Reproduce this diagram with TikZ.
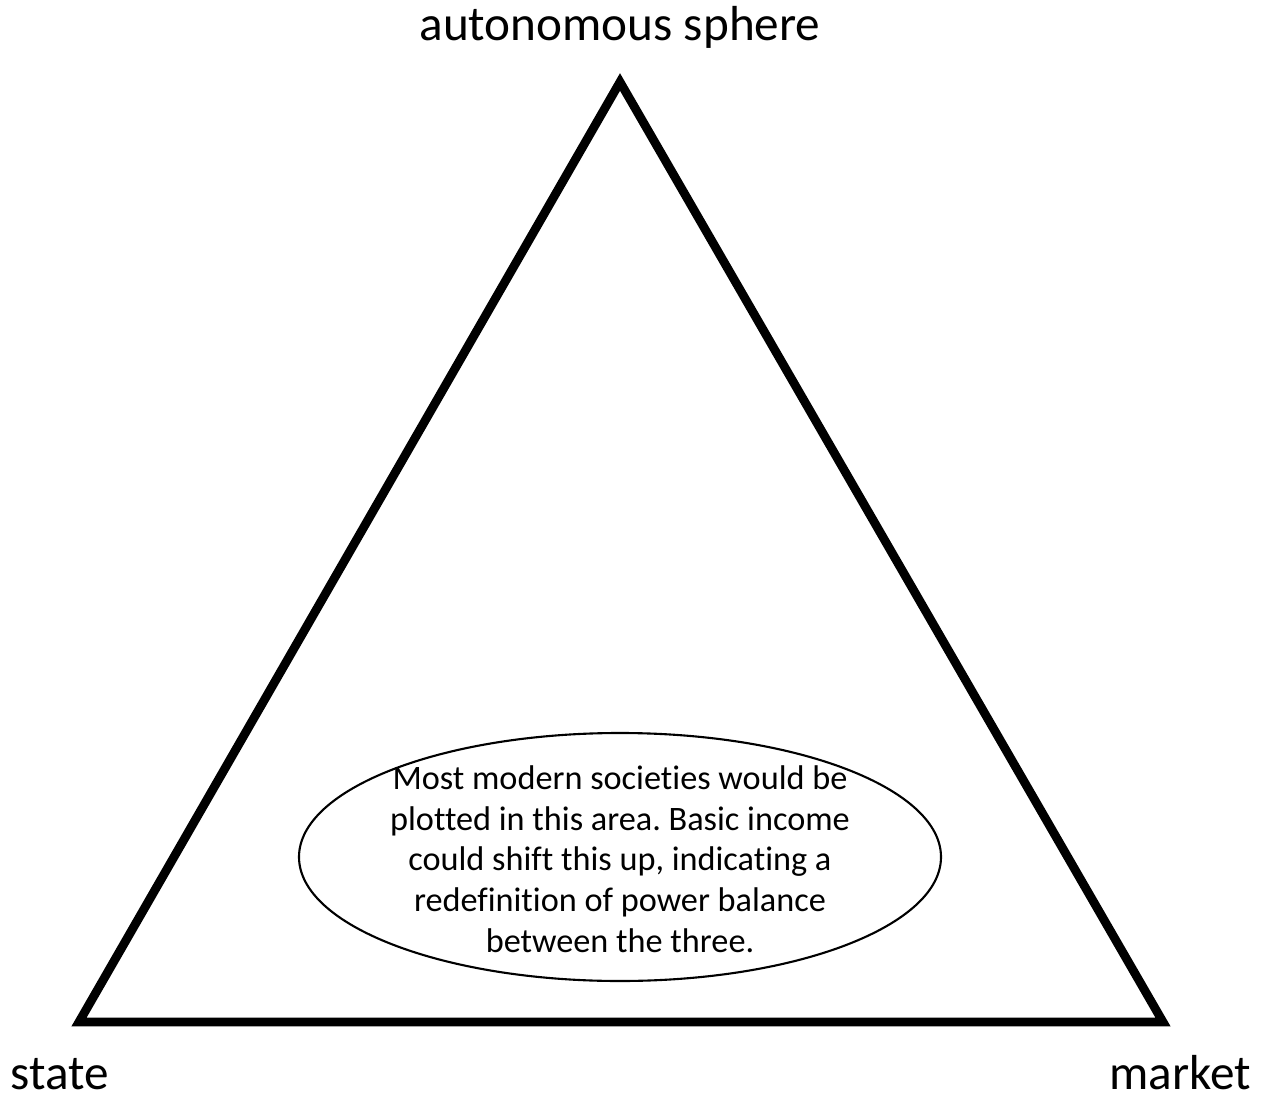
\documentclass[tikz,border=0pt]{standalone}
\usepackage{fontspec}
\setmainfont{Carlito}[RawFeature={-liga;-clig;-calt;-dlig}]
\frenchspacing
\usepackage{tikz}
\usetikzlibrary{shapes.geometric}
\usetikzlibrary{positioning}

\begin{document}
\begin{tikzpicture}[x=0.02cm,y=-0.02cm,
    corner label/.style={anchor=base,inner sep=0pt,font=\fontsize{28}{33}\selectfont},
    side line/.style={-,line width=5pt,line join=miter}]
   \useasboundingbox (0,0) rectangle (1261,1098);
   \begin{scope}
     % corners of the triangle
     \coordinate (top) at (620,82);
     \coordinate (left) at (79,1022);
     \coordinate (right) at (1163,1022);
      \draw[side line] (top) -- (left) -- (right) -- cycle;
     % labels
     \node[corner label] (auto) at (620,41) {autonomous sphere};
     \node[corner label] (state) at (60,1089) {state};
     \node[corner label] (market) at (1180,1089) {market};
     % the area of most societies
     \draw[line width=1.2pt] (620,857) ellipse (321 and 124);
     \node[align=center,font=\fontsize{19.5}{23.2}\selectfont] (area) at (620,859)
        {Most modern societies would be\\plotted in this area. Basic income\\could shift this up, indicating a\\redefinition of power balance\\between the three.};
   \end{scope}
  \end{tikzpicture}
\end{document}
